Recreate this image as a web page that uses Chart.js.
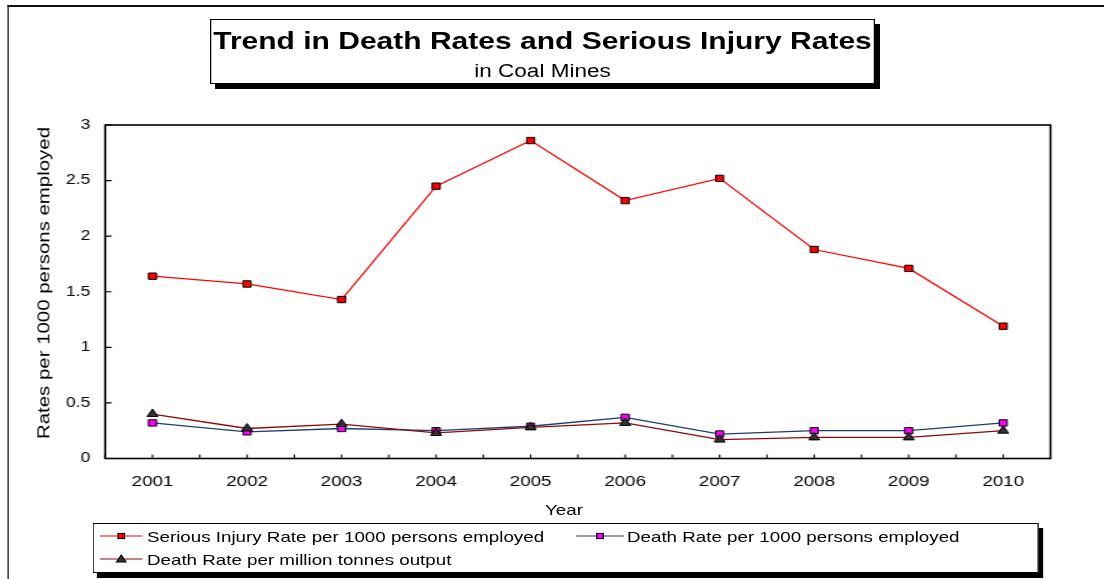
<!DOCTYPE html>
<html>
<head>
<meta charset="utf-8">
<title>Trend in Death Rates and Serious Injury Rates</title>
<script src="https://cdn.jsdelivr.net/npm/chart.js@4.4.1/dist/chart.umd.min.js"></script>
<style>
  html, body { margin: 0; padding: 0; background: #fff; width: 1104px; height: 579px; overflow: hidden; }
  /* the whole drawing is laid out on an 884px-wide stage and widened by 1.25 */
  #stage { position: absolute; left: 0; top: 0; width: 884px; height: 579px;
           transform: scaleX(1.25); transform-origin: 0 0;
           font-family: 'Liberation Sans', Arial, Helvetica, sans-serif; color: #000; }
  #frame { position: absolute; left: 6px; top: 5px; width: 2000px; height: 2000px;
           border-left: 1.6px solid #111; border-top: 2px solid #111; }
  canvas { position: absolute; left: 0; top: 0; }
  .box { position: absolute; box-sizing: border-box; border: 1px solid #000; background: #fff; }
  #titleBox { left: 168px; top: 19px; width: 532px; height: 65px; box-shadow: 4px 5px 0 #000; }
  #legendBox { left: 74.4px; top: 523px; width: 756.8px; height: 50px; box-shadow: 3.5px 5px 0 #000; }
  .txt { position: absolute; white-space: nowrap; }
  #title { left: 434px; top: 28.5px; font-size: 24px; line-height: 24px; font-weight: bold; transform: translateX(-50%); }
  #subtitle { left: 434px; top: 62px; font-size: 18px; line-height: 18px; transform: translateX(-50%); }
  #xTitle { left: 451.2px; top: 501.5px; font-size: 15px; line-height: 15px; transform: translateX(-50%); }
  #yTitle { left: 35.2px; top: 283px; font-size: 13px; line-height: 13px;
            transform: translate(-50%, -50%) rotate(-90deg) scaleX(1.57); }
  .legText { font-size: 15px; line-height: 15px; }
  .legKey { position: absolute; overflow: visible; }
</style>
</head>
<body>
<div id="stage">
  <div id="frame"></div>
  <canvas id="chart" width="884" height="579"></canvas>
  <div id="titleBox" class="box"></div>
  <div id="title" class="txt">Trend in Death Rates and Serious Injury Rates</div>
  <div id="subtitle" class="txt">in Coal Mines</div>
  <div id="xTitle" class="txt">Year</div>
  <div id="yTitle" class="txt">Rates per 1000 persons employed</div>
  <div id="legendBox" class="box"></div>
</div>
<script>
// Years on the category axis
const years = ['2001', '2002', '2003', '2004', '2005', '2006', '2007', '2008', '2009', '2010'];

// Rates by year
const seriousInjuryRate = [1.64, 1.57, 1.43, 2.45, 2.86, 2.32, 2.52, 1.88, 1.71, 1.19];
const deathRatePer1000 = [0.32, 0.24, 0.27, 0.25, 0.29, 0.37, 0.22, 0.25, 0.25, 0.32];
const deathRatePerMillionTonnes = [0.40, 0.27, 0.31, 0.23, 0.28, 0.32, 0.17, 0.19, 0.19, 0.25];

// Value axis ticks
const yTicks = [0, 0.5, 1, 1.5, 2, 2.5, 3];

// Series names
const seriesNames = [
  'Serious Injury Rate per 1000 persons employed',
  'Death Rate per 1000 persons employed',
  'Death Rate per million tonnes output'
];

const FONT = "'Liberation Sans', Arial, Helvetica, sans-serif";

// Plot frame plus short inward tick marks on both axes
const plotFrame = {
  id: 'plotFrame',
  beforeDatasetsDraw(chart) {
    const { ctx, chartArea: a, scales: { x, y } } = chart;
    ctx.save();
    ctx.strokeStyle = '#000';
    ctx.lineWidth = 1.6;
    ctx.strokeRect(a.left, a.top, a.right - a.left, a.bottom - a.top);
    ctx.lineWidth = 1.1;
    ctx.beginPath();
    y.ticks.forEach(t => {
      const py = y.getPixelForValue(t.value);
      ctx.moveTo(a.left, py);
      ctx.lineTo(a.left + 5, py);
    });
    const half = (x.getPixelForTick(1) - x.getPixelForTick(0)) / 2;
    for (let i = 0; i < x.ticks.length; i++) {
      const px = x.getPixelForTick(i);
      [px - half, px].forEach(p => {
        ctx.moveTo(p, a.bottom);
        ctx.lineTo(p, a.bottom - 4);
      });
    }
    ctx.stroke();
    ctx.restore();
  }
};

const seriesStyles = [
  { line: '#ff0000', fill: '#ff0000', shape: 'rect', radius: 4.5, order: 2 },
  { line: '#1c3f6e', fill: '#ff00ff', shape: 'rect', radius: 4.5, order: 1 },
  { line: '#8b0a0a', fill: '#333333', shape: 'triangle', radius: 5, order: 0 }
];
const seriesData = [seriousInjuryRate, deathRatePer1000, deathRatePerMillionTonnes];

new Chart(document.getElementById('chart'), {
  type: 'line',
  data: {
    labels: years,
    datasets: seriesData.map((d, i) => ({
      label: seriesNames[i],
      data: d,
      borderColor: seriesStyles[i].line,
      borderWidth: 1.3,
      pointStyle: seriesStyles[i].shape,
      pointRadius: seriesStyles[i].radius,
      pointBackgroundColor: seriesStyles[i].fill,
      pointBorderColor: '#000',
      pointBorderWidth: 1,
      tension: 0,
      order: seriesStyles[i].order
    }))
  },
  options: {
    responsive: false,
    animation: false,
    events: [],
    layout: { padding: { top: 125, right: 43.6, bottom: 0, left: 0 } },
    plugins: { legend: { display: false }, tooltip: { enabled: false }, title: { display: false } },
    scales: {
      x: {
        type: 'category',
        offset: true,
        grid: { display: false, drawTicks: false },
        border: { display: false },
        ticks: { color: '#000', font: { family: FONT, size: 15 }, padding: 14.5, maxRotation: 0, autoSkip: false },
        afterFit: s => { s.height = 120.5; }
      },
      y: {
        min: 0,
        max: 3,
        grid: { display: false, drawTicks: false },
        border: { display: false },
        ticks: { color: '#000', font: { family: FONT, size: 14 }, padding: 12, callback: v => String(v) },
        afterBuildTicks: s => { s.ticks = yTicks.map(v => ({ value: v })); },
        afterFit: s => { s.width = 84.2; }
      }
    }
  },
  plugins: [plotFrame]
});

// Legend entries: key line with marker, then the series name
const legendSlots = [
  { keyLeft: 80, keyWidth: 34, textLeft: 117.6, y: 536 },
  { keyLeft: 461, keyWidth: 38, textLeft: 501.6, y: 536 },
  { keyLeft: 80, keyWidth: 34, textLeft: 117.6, y: 559 }
];
const stage = document.getElementById('stage');
const SVGNS = 'http://www.w3.org/2000/svg';
legendSlots.forEach((slot, i) => {
  const st = seriesStyles[i];
  const svg = document.createElementNS(SVGNS, 'svg');
  svg.setAttribute('class', 'legKey');
  svg.setAttribute('width', slot.keyWidth);
  svg.setAttribute('height', 12);
  svg.style.left = slot.keyLeft + 'px';
  svg.style.top = (slot.y - 6) + 'px';
  const ln = document.createElementNS(SVGNS, 'line');
  ln.setAttribute('x1', 0); ln.setAttribute('x2', slot.keyWidth);
  ln.setAttribute('y1', 6); ln.setAttribute('y2', 6);
  ln.setAttribute('stroke', st.line); ln.setAttribute('stroke-width', 1.2);
  svg.appendChild(ln);
  const cx = slot.keyWidth / 2;
  let mk;
  if (st.shape === 'rect') {
    mk = document.createElementNS(SVGNS, 'rect');
    mk.setAttribute('x', cx - 2.6); mk.setAttribute('y', 3.4);
    mk.setAttribute('width', 5.2); mk.setAttribute('height', 5.2);
  } else {
    mk = document.createElementNS(SVGNS, 'polygon');
    mk.setAttribute('points', `${cx},2 ${cx + 3.8},9 ${cx - 3.8},9`);
  }
  mk.setAttribute('fill', st.fill); mk.setAttribute('stroke', '#000'); mk.setAttribute('stroke-width', 1);
  svg.appendChild(mk);
  stage.appendChild(svg);
  const t = document.createElement('div');
  t.className = 'txt legText';
  t.style.left = slot.textLeft + 'px';
  t.style.top = (slot.y - 7.5) + 'px';
  t.textContent = seriesNames[i];
  stage.appendChild(t);
});
</script>
</body>
</html>
